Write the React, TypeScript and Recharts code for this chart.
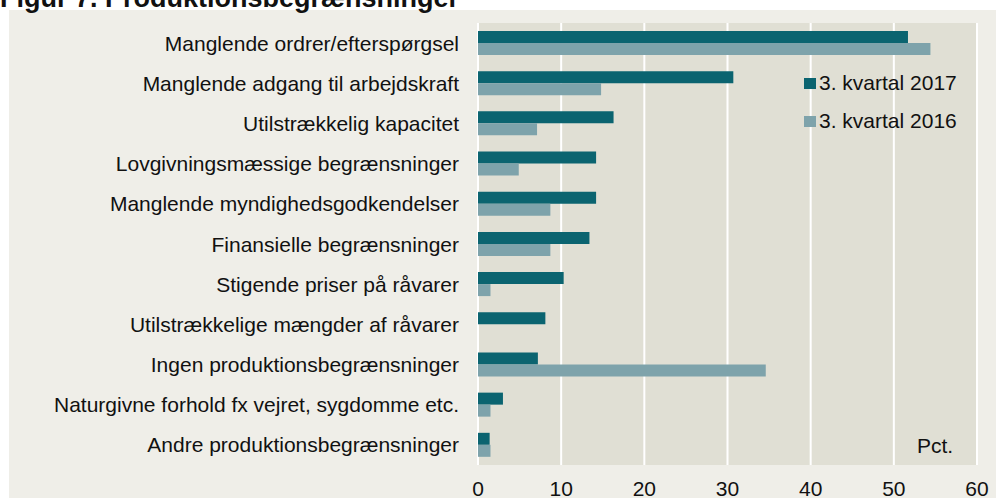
import React from 'react'
import { BarChart, Bar, XAxis, YAxis, CartesianGrid } from 'recharts'

// Figur 7. Produktionsbegrænsninger (pct.)
const categories = [
  'Manglende ordrer/efterspørgsel',
  'Manglende adgang til arbejdskraft',
  'Utilstrækkelig kapacitet',
  'Lovgivningsmæssige begrænsninger',
  'Manglende myndighedsgodkendelser',
  'Finansielle begrænsninger',
  'Stigende priser på råvarer',
  'Utilstrækkelige mængder af råvarer',
  'Ingen produktionsbegrænsninger',
  'Naturgivne forhold fx vejret, sygdomme etc.',
  'Andre produktionsbegrænsninger',
]
const q3_2017 = [51.7, 30.7, 16.3, 14.2, 14.2, 13.4, 10.3, 8.1, 7.2, 3.0, 1.4]
const q3_2016 = [54.4, 14.8, 7.1, 4.9, 8.7, 8.7, 1.5, 0, 34.6, 1.5, 1.5]
const xTicks = [0, 10, 20, 30, 40, 50, 60]
const seriesNames = ['3. kvartal 2017', '3. kvartal 2016']

const data = categories.map((name, i) => ({
  name,
  a: q3_2017[i],
  b: q3_2016[i],
}))

const DARK = '#0b6470'
const LIGHT = '#7ea3ab'
const FONT = '"Liberation Sans", Arial, sans-serif'

function CategoryTick(props: any) {
  const { y, payload } = props
  return (
    <text x={459} y={y} textAnchor="end" dominantBaseline="central" fontSize={21} fill="#111" fontFamily={FONT}>
      {payload.value}
    </text>
  )
}

function ValueTick(props: any) {
  const { x, payload } = props
  return (
    <text x={x} y={488} textAnchor="middle" dominantBaseline="central" fontSize={21} fill="#111" fontFamily={FONT}>
      {payload.value}
    </text>
  )
}

export default function App() {
  return (
    <div style={{ position: 'absolute', left: 0, top: 0, width: 996, height: 498, background: '#fff', overflow: 'hidden', fontFamily: FONT }}>
      <div style={{ position: 'absolute', left: 9, top: 10, right: 0, bottom: 0, background: '#efeee8' }} />
      <div style={{ position: 'absolute', left: 0, top: -17, fontSize: 27, lineHeight: '30px', fontWeight: 'bold', color: '#111', whiteSpace: 'nowrap' }}>
        Figur 7. Produktionsbegrænsninger
      </div>
      <div style={{ position: 'absolute', left: 0, top: 0 }}>
        <BarChart
          width={996}
          height={498}
          data={data}
          layout="vertical"
          margin={{ top: 23, right: 19, bottom: 0, left: 0 }}
          barGap={0}
        >
          <CartesianGrid horizontal={false} vertical stroke="#ffffff" strokeWidth={2} fill="#e0dfd4" />
          <XAxis
            type="number"
            domain={[0, 60]}
            ticks={xTicks}
            axisLine={false}
            tickLine={false}
            height={33}
            tick={<ValueTick />}
            interval={0}
          />
          <YAxis
            type="category"
            dataKey="name"
            width={478}
            axisLine={false}
            tickLine={false}
            tick={<CategoryTick />}
            interval={0}
          />
          <Bar dataKey="a" name={seriesNames[0]} fill={DARK} barSize={12} isAnimationActive={false} />
          <Bar dataKey="b" name={seriesNames[1]} fill={LIGHT} barSize={12} isAnimationActive={false} />
        </BarChart>
      </div>
      {seriesNames.map((s, i) => (
        <div
          key={s}
          style={{ position: 'absolute', left: 804, top: 71 + i * 38, height: 24, display: 'flex', alignItems: 'center', fontSize: 21, color: '#111', whiteSpace: 'nowrap' }}
        >
          <span style={{ display: 'inline-block', width: 12, height: 11, background: i === 0 ? DARK : LIGHT, marginRight: 3 }} />
          {s}
        </div>
      ))}
      <div style={{ position: 'absolute', left: 917, top: 434, fontSize: 21, lineHeight: '24px', color: '#111' }}>Pct.</div>
    </div>
  )
}
